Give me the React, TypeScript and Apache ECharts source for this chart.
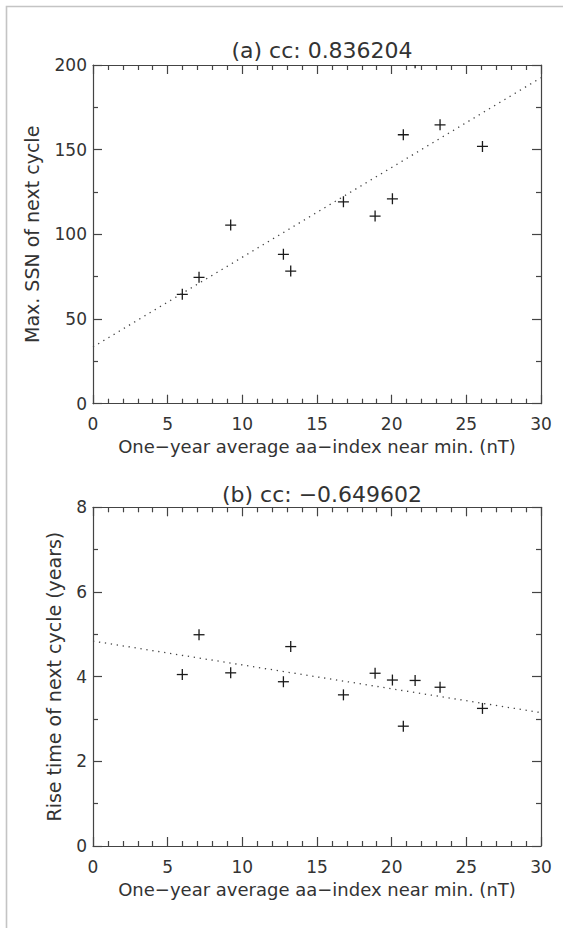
import React, { useEffect, useRef } from "react";
import * as echarts from "echarts";

// ---- data ----
const aaIndex = [5.98, 7.1, 9.22, 12.75, 13.24, 16.77, 18.89, 20.05, 20.78, 21.57, 23.24, 26.08];
const maxSSN = [64.6, 74.6, 105.5, 88.2, 78.3, 119.2, 110.8, 121.0, 158.8, 201.3, 164.7, 151.9];
const riseTime = [4.05, 4.99, 4.09, 3.88, 4.71, 3.57, 4.08, 3.92, 2.83, 3.91, 3.75, 3.25];

const fitX = [0, 30];
const fitSSN = [33.5, 192.5];
const fitRise = [4.84, 3.15];

const titleA = "(a) cc: 0.836204";
const titleB = "(b) cc: \u22120.649602";
const xName = "One\u2212year average aa\u2212index near min. (nT)";
const yNameA = "Max. SSN of next cycle";
const yNameB = "Rise time of next cycle (years)";

const FONT = "DejaVu Sans";
const TEXT = "#333";
const AXIS = "#444";

function zip(xs: number[], ys: number[]) {
  return xs.map((x, i) => [x, ys[i]]);
}

function axisPair(gridIndex: number, withLabels: boolean, isX: boolean, cfg: any) {
  const lineStyle = { color: AXIS, width: 1.2 };
  const common: any = {
    gridIndex,
    type: "value",
    min: cfg.min,
    max: cfg.max,
    interval: cfg.interval,
    axisLine: { show: true, onZero: false, lineStyle },
    axisTick: { show: true, inside: true, length: 9, lineStyle },
    minorTick: { show: true, splitNumber: cfg.minor, length: 5, lineStyle },
    splitLine: { show: false },
    minorSplitLine: { show: false },
  };
  if (withLabels) {
    return {
      ...common,
      position: isX ? "bottom" : "left",
      axisLabel: {
        show: true,
        fontSize: 17,
        fontFamily: FONT,
        color: TEXT,
        margin: isX ? 12 : 6,
      },
      name: cfg.name,
      nameLocation: "middle",
      nameGap: cfg.nameGap,
      nameTextStyle: { fontSize: cfg.nameSize, fontFamily: FONT, color: TEXT },
    };
  }
  return {
    ...common,
    position: isX ? "top" : "right",
    axisLabel: { show: false },
  };
}

function plusSeries(xi: number, yi: number, data: number[][]) {
  return {
    type: "custom",
    xAxisIndex: xi,
    yAxisIndex: yi,
    clip: true,
    data,
    renderItem: (params: any, api: any) => {
      const p = api.coord([api.value(0), api.value(1)]);
      const h = 5.5;
      const style = { stroke: "#1a1a1a", lineWidth: 1.3 };
      return {
        type: "group",
        children: [
          { type: "line", shape: { x1: p[0] - h, y1: p[1], x2: p[0] + h, y2: p[1] }, style },
          { type: "line", shape: { x1: p[0], y1: p[1] - h, x2: p[0], y2: p[1] + h }, style },
        ],
      };
    },
  };
}

function fitSeries(xi: number, yi: number, data: number[][]) {
  return {
    type: "line",
    xAxisIndex: xi,
    yAxisIndex: yi,
    data,
    symbol: "none",
    silent: true,
    lineStyle: { color: "#444", width: 1.3, type: [1.3, 4.7] },
  };
}

export default function App() {
  const ref = useRef<HTMLDivElement>(null);

  useEffect(() => {
    if (!ref.current) return;
    const chart = echarts.init(ref.current, undefined, { renderer: "svg" });
    const xCfg = { min: 0, max: 30, interval: 5, minor: 5, name: xName, nameGap: 34, nameSize: 18 };
    const titleStyle = { fontSize: 22, fontWeight: "normal", fontFamily: FONT, color: TEXT };
    const option: any = {
      animation: false,
      backgroundColor: "#fff",
      title: [
        { text: titleA, left: 317, top: 34, textAlign: "center", textStyle: titleStyle },
        { text: titleB, left: 317, top: 478, textAlign: "center", textStyle: titleStyle },
      ],
      grid: [
        { left: 93, top: 65, width: 448, height: 338.7 },
        { left: 93, top: 507.3, width: 448, height: 338.7 },
      ],
      xAxis: [
        axisPair(0, true, true, xCfg),
        axisPair(0, false, true, xCfg),
        axisPair(1, true, true, xCfg),
        axisPair(1, false, true, xCfg),
      ],
      yAxis: [
        axisPair(0, true, false, { min: 0, max: 200, interval: 50, minor: 2, name: yNameA, nameGap: 52, nameSize: 19 }),
        axisPair(0, false, false, { min: 0, max: 200, interval: 50, minor: 2 }),
        axisPair(1, true, false, { min: 0, max: 8, interval: 2, minor: 2, name: yNameB, nameGap: 30, nameSize: 19 }),
        axisPair(1, false, false, { min: 0, max: 8, interval: 2, minor: 2 }),
      ],
      series: [
        fitSeries(0, 0, zip(fitX, fitSSN)),
        plusSeries(0, 0, zip(aaIndex, maxSSN)),
        fitSeries(2, 2, zip(fitX, fitRise)),
        plusSeries(2, 2, zip(aaIndex, riseTime)),
      ],
      graphic: [
        {
          type: "rect",
          left: 4,
          top: 4,
          shape: { x: 0, y: 0, width: 700, height: 1100 },
          style: { fill: "none", stroke: "#c4c4c4", lineWidth: 1.6 },
          silent: true,
        },
      ],
    };
    chart.setOption(option);
    return () => chart.dispose();
  }, []);

  return (
    <div
      ref={ref}
      style={{ position: "absolute", left: 0, top: 0, width: 563, height: 928, background: "#fff" }}
    />
  );
}
